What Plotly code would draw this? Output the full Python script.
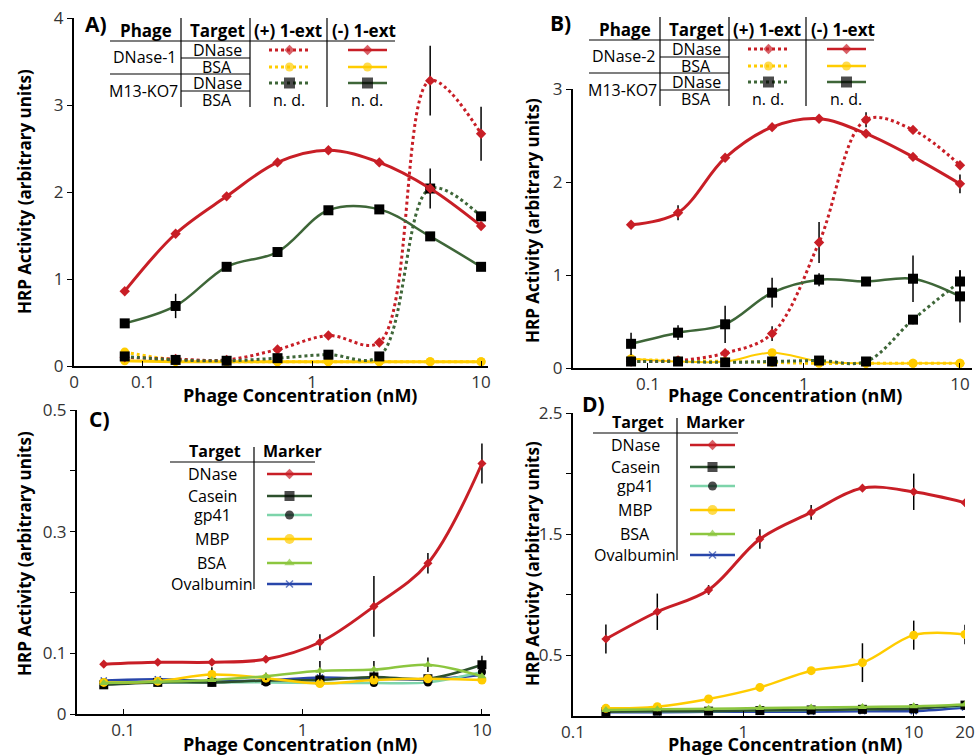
import plotly.graph_objects as go

# phage concentrations (nM), two-fold dilutions
conc_ab = [0.078, 0.156, 0.3125, 0.625, 1.25, 2.5, 5, 10]
conc_c = [0.078, 0.156, 0.3125, 0.625, 1.25, 2.5, 5, 10]
conc_d = [0.156, 0.3125, 0.625, 1.25, 2.5, 5, 10, 20]

# A) DNase-1 phage and M13-KO7, with (+) and without (-) 1-ext
a_dnase_minus = [0.86, 1.52, 1.95, 2.34, 2.48, 2.34, 2.04, 1.61]
a_dnase_plus = [0.10, 0.08, 0.07, 0.19, 0.35, 0.27, 3.28, 2.67]
a_dnase_plus_err = [0, 0, 0, 0, 0, 0, 0.40, 0.31]
a_bsa_minus = [0.06, 0.05, 0.05, 0.05, 0.05, 0.05, 0.05, 0.05]
a_bsa_plus = [0.16, 0.07, 0.05, 0.05, 0.05, 0.05, 0.05, 0.05]
a_m13_minus = [0.49, 0.69, 1.14, 1.31, 1.79, 1.80, 1.49, 1.14]
a_m13_minus_err = [0, 0.14, 0, 0, 0, 0, 0, 0]
a_m13_plus = [0.11, 0.07, 0.06, 0.09, 0.13, 0.11, 2.04, 1.72]
a_m13_plus_err = [0, 0, 0, 0, 0, 0, 0.23, 0.05]

# B) DNase-2 phage and M13-KO7
b_dnase_minus = [1.54, 1.67, 2.26, 2.59, 2.68, 2.52, 2.27, 1.98]
b_dnase_minus_err = [0, 0.08, 0, 0, 0, 0, 0, 0.10]
b_dnase_plus = [0.07, 0.08, 0.16, 0.37, 1.35, 2.67, 2.56, 2.18]
b_dnase_plus_err = [0, 0, 0, 0.08, 0.22, 0.08, 0.03, 0]
b_bsa_minus = [0.10, 0.07, 0.07, 0.165, 0.07, 0.05, 0.05, 0.05]
b_bsa_plus = [0.09, 0.08, 0.07, 0.06, 0.05, 0.05, 0.05, 0.05]
b_m13_minus = [0.26, 0.38, 0.47, 0.81, 0.95, 0.93, 0.96, 0.77]
b_m13_minus_err = [0.12, 0.08, 0.20, 0.16, 0.07, 0, 0.25, 0.28]
b_m13_plus = [0.07, 0.07, 0.06, 0.07, 0.08, 0.07, 0.52, 0.93]
b_m13_plus_err = [0, 0, 0, 0, 0, 0, 0.05, 0.12]

# C) and D) target panels
targets = ["DNase", "Casein", "gp41", "MBP", "BSA", "Ovalbumin"]
c_values = [
    [0.082, 0.085, 0.085, 0.090, 0.118, 0.177, 0.248, 0.412],
    [0.048, 0.052, 0.052, 0.055, 0.056, 0.061, 0.058, 0.081],
    [0.052, 0.052, 0.052, 0.052, 0.051, 0.051, 0.052, 0.069],
    [0.052, 0.054, 0.065, 0.059, 0.050, 0.056, 0.058, 0.056],
    [0.051, 0.053, 0.056, 0.062, 0.071, 0.073, 0.081, 0.062],
    [0.055, 0.057, 0.054, 0.055, 0.060, 0.058, 0.057, 0.064],
]
c_errors = [
    [0, 0, 0, 0, 0.013, 0.05, 0.017, 0.033],
    [0, 0, 0, 0, 0, 0, 0, 0.015],
    [0, 0, 0, 0, 0, 0, 0, 0],
    [0, 0, 0.012, 0, 0, 0, 0, 0],
    [0, 0, 0, 0.006, 0.016, 0.014, 0.012, 0],
    [0, 0, 0, 0, 0, 0, 0, 0],
]
d_values = [
    [0.635, 0.86, 1.04, 1.46, 1.68, 1.88, 1.85, 1.76],
    [0.035, 0.04, 0.04, 0.045, 0.05, 0.055, 0.06, 0.09],
    [0.035, 0.04, 0.04, 0.045, 0.05, 0.055, 0.065, 0.085],
    [0.063, 0.077, 0.14, 0.236, 0.374, 0.44, 0.667, 0.673],
    [0.05, 0.055, 0.06, 0.065, 0.07, 0.075, 0.08, 0.095],
    [0.03, 0.03, 0.035, 0.035, 0.035, 0.04, 0.04, 0.07],
]
d_errors = [
    [0.12, 0.15, 0.04, 0.08, 0.06, 0, 0.15, 0.03],
    [0, 0, 0, 0, 0, 0, 0, 0],
    [0, 0, 0, 0, 0, 0, 0, 0],
    [0, 0, 0, 0.03, 0, 0.16, 0.12, 0.08],
    [0, 0, 0, 0, 0, 0, 0, 0],
    [0, 0, 0, 0, 0, 0, 0, 0],
]

RED = "rgb(200,30,38)"
GREEN = "rgb(62,102,56)"
YELLOW = "rgb(255,204,0)"
target_colors = [RED, "rgb(45,80,45)", "rgb(125,212,170)", YELLOW, "rgb(140,198,63)", "rgb(40,70,170)"]
target_symbols = ["diamond", "square", "circle", "circle", "triangle-up", "x-thin"]
target_mcolors = [RED, "black", "black", YELLOW, "rgb(140,198,63)", "rgb(40,70,170)"]
target_msize = [8, 10, 9, 10, 9, 7]
draw_order = [5, 2, 1, 3, 4, 0]

FONT = "Open Sans"
W, H = 975, 755

fig = go.Figure()


def err(vals):
    return dict(type="data", array=vals, color="black", thickness=1.5, width=0, visible=True)


def series(x, y, ax, color, dash, symbol, mcolor, msize, lw=3, e=None):
    fig.add_trace(go.Scatter(
        x=x, y=y, mode="lines+markers", xaxis="x" + ax, yaxis="y" + ax,
        line=dict(color=color, width=lw, dash=dash, shape="spline", smoothing=1),
        marker=dict(symbol=symbol, color=mcolor, size=msize,
                    line=dict(color=mcolor, width=1.5 if symbol == "x-thin" else 0)),
        error_y=err(e) if e else None, showlegend=False, hoverinfo="skip"))


# panel A
series(conc_ab, a_bsa_plus, "", YELLOW, "dot", "circle", YELLOW, 9)
series(conc_ab, a_bsa_minus, "", YELLOW, "solid", "circle", YELLOW, 9)
series(conc_ab, a_dnase_plus, "", RED, "dot", "diamond", RED, 8, e=a_dnase_plus_err)
series(conc_ab, a_m13_plus, "", GREEN, "dot", "square", "black", 10, e=a_m13_plus_err)
series(conc_ab, a_dnase_minus, "", RED, "solid", "diamond", RED, 8)
series(conc_ab, a_m13_minus, "", GREEN, "solid", "square", "black", 10, lw=2.5, e=a_m13_minus_err)

# panel B
series(conc_ab, b_bsa_plus, "2", YELLOW, "dot", "circle", YELLOW, 9)
series(conc_ab, b_bsa_minus, "2", YELLOW, "solid", "circle", YELLOW, 9, lw=2)
series(conc_ab, b_dnase_plus, "2", RED, "dot", "diamond", RED, 8, e=b_dnase_plus_err)
series(conc_ab, b_m13_plus, "2", GREEN, "dot", "square", "black", 10, e=b_m13_plus_err)
series(conc_ab, b_dnase_minus, "2", RED, "solid", "diamond", RED, 8, e=b_dnase_minus_err)
series(conc_ab, b_m13_minus, "2", GREEN, "solid", "square", "black", 10, lw=2.5, e=b_m13_minus_err)

# panels C and D
for i in draw_order:
    series(conc_c, c_values[i], "3", target_colors[i], "solid", target_symbols[i],
           target_mcolors[i], target_msize[i] - 1, lw=3 if i == 0 else 2.5, e=c_errors[i])
for i in draw_order:
    series(conc_d, d_values[i], "4", target_colors[i], "solid", target_symbols[i],
           target_mcolors[i], target_msize[i] - 1, lw=3 if i == 0 else 2.5, e=d_errors[i])

# ---- overlay (pixel coordinates) for tables and labels ----
annos = []
shapes = []


def text(x, y, s, size=16, bold=False, angle=0):
    annos.append(dict(x=x, y=y, xref="x5", yref="y5", text=("<b>%s</b>" % s) if bold else s,
                      showarrow=False, textangle=angle, xanchor="center", yanchor="middle",
                      font=dict(family=FONT, size=size, color="black")))


def hline(x0, x1, y, w=1.2):
    shapes.append(dict(type="line", xref="x5", yref="y5", x0=x0, x1=x1, y0=y, y1=y,
                       line=dict(color="black", width=w)))


def vline(x, y0, y1, w=1.2):
    shapes.append(dict(type="line", xref="x5", yref="y5", x0=x, x1=x, y0=y0, y1=y1,
                       line=dict(color="black", width=w)))


def sample(x1, x2, y, color, dash, symbol, mcolor, msize, lw=3):
    xc = (x1 + x2) / 2
    fig.add_trace(go.Scatter(
        x=[x1, xc, x2], y=[y, y, y], mode="lines+markers", xaxis="x5", yaxis="y5",
        line=dict(color=color, width=lw, dash=dash),
        marker=dict(symbol=symbol, color=mcolor, size=[0, msize, 0],
                    line=dict(color=mcolor, width=1.5 if symbol == "x-thin" else 0)),
        showlegend=False, hoverinfo="skip"))


def phage_table(dx, dy, phage):
    for s, x in [("Phage", 146), ("Target", 217), ("(+) 1-ext", 288), ("(-) 1-ext", 364)]:
        text(x + dx, 30 + dy, s, size=17, bold=True)
    for x in (181, 250, 327):
        vline(x + dx, 18 + dy, 107 + dy)
    hline(110 + dx, 395 + dx, 41 + dy)
    hline(110 + dx, 250 + dx, 74 + dy)
    hline(181 + dx, 250 + dx, 58 + dy)
    hline(181 + dx, 250 + dx, 91 + dy)
    text(144 + dx, 57 + dy, phage)
    text(143 + dx, 91 + dy, "M13-KO7")
    for s, y in [("DNase", 50), ("BSA", 67), ("DNase", 83), ("BSA", 100)]:
        text(217 + dx, y + dy, s)
    rows = [(50, RED, "diamond", RED, 8), (67, YELLOW, "circle", YELLOW, 9), (83, GREEN, "square", "black", 11)]
    for y, c, sym, mc, ms in rows:
        sample(269 + dx, 310 + dx, y + dy, c, "dot", sym, mc, ms)
        sample(348 + dx, 387 + dx, y + dy, c, "solid", sym, mc, ms, lw=2.5)
    text(289 + dx, 100 + dy, "n. d.")
    text(367 + dx, 100 + dy, "n. d.")


def target_table(dx, dy):
    text(215 + dx, 451 + dy, "Target", bold=True)
    text(292 + dx, 451 + dy, "Marker", bold=True)
    vline(254 + dx, 447 + dy, 589 + dy)
    hline(170 + dx, 315 + dx, 462 + dy)
    ys = [474, 496, 515, 539, 563, 584]
    for i, t in enumerate(targets):
        text(212 + dx, ys[i] + dy, t)
        sample(267 + dx, 312 + dx, ys[i] + dy, target_colors[i], "solid", target_symbols[i],
               target_mcolors[i], target_msize[i], lw=2.5)


phage_table(0, 0, "DNase-1")
phage_table(479, -1, "DNase-2")
target_table(0, 0)
target_table(423, -29)

for s, x, y in [("A)", 96, 24), ("B)", 560, 23), ("C)", 99, 419), ("D)", 593, 404)]:
    text(x, y, s, size=21, bold=True)
for x, y in [(300, 395), (785, 395), (300, 744), (785, 744)]:
    text(x, y, "Phage Concentration (nM)", size=18, bold=True)
for x, y in [(24, 192), (532, 221), (24, 554), (532, 564)]:
    text(x, y, "HRP Activity (arbitrary units)", size=17, bold=True, angle=-90)


def xdom(a, b):
    return [a / W, b / W]


def ydom(top, bottom):
    return [1 - bottom / H, 1 - top / H]


tickfont = dict(family=FONT, size=17, color="#333")
base_x = dict(type="log", showline=True, linecolor="black", linewidth=2, ticks="inside",
              ticklen=5, tickcolor="black", showgrid=False, zeroline=False, tickfont=tickfont,
              automargin=False)
base_y = dict(showline=True, linecolor="black", linewidth=2, ticks="outside", ticklen=5,
              tickcolor="black", showgrid=False, zeroline=False, tickfont=tickfont,
              automargin=False)

a_left = -1.408
b_left = -1.48
c_left = -1.257

fig.update_layout(
    width=W, height=H, margin=dict(l=0, r=0, t=0, b=0, pad=0, autoexpand=False),
    plot_bgcolor="rgba(0,0,0,0)", paper_bgcolor="white",
    xaxis=dict(base_x, domain=xdom(74, 488), range=[a_left, 1.041], anchor="y",
               tickvals=[10 ** a_left, 0.1, 1, 10], ticktext=["0", "0.1", "1", "10"]),
    yaxis=dict(base_y, domain=ydom(18, 366), range=[0, 4], anchor="x",
               tickvals=[0, 1, 2, 3, 4]),
    xaxis2=dict(base_x, domain=xdom(573, 972), range=[b_left, 1.077], anchor="y2",
                tickvals=[0.1, 1, 10], ticktext=["0.1", "1", "10"]),
    yaxis2=dict(base_y, domain=ydom(89, 368), range=[0, 3], anchor="x2",
                tickvals=[0, 1, 2, 3]),
    xaxis3=dict(base_x, domain=xdom(77, 490), range=[c_left, 1.045], anchor="y3",
                tickvals=[0.1, 1, 10], ticktext=["0.1", "1", "10"]),
    yaxis3=dict(base_y, domain=ydom(410, 714), range=[0, 0.5], anchor="x3",
                tickvals=[0, 0.1, 0.2, 0.3, 0.4, 0.5], ticktext=["0", "0.1", "", "0.3", "", "0.5"]),
    xaxis4=dict(base_x, domain=xdom(573, 965), range=[-1, 1.301], anchor="y4",
                tickvals=[0.1, 1, 10, 20], ticktext=["0.1", "1", "10", "20"]),
    yaxis4=dict(base_y, domain=ydom(413, 716), range=[0, 2.5], anchor="x4",
                tickvals=[0.5, 1, 1.5, 2, 2.5], ticktext=["0.5", "", "1.5", "", "2.5"]),
    xaxis5=dict(domain=[0, 1], range=[0, W], visible=False, anchor="y5", automargin=False),
    yaxis5=dict(domain=[0, 1], range=[H, 0], visible=False, anchor="x5", automargin=False),
    annotations=annos, shapes=shapes,
)

fig.write_html("out.html", config={"displayModeBar": False},
               post_script="document.body.style.margin='0';document.body.style.overflow='hidden';")
